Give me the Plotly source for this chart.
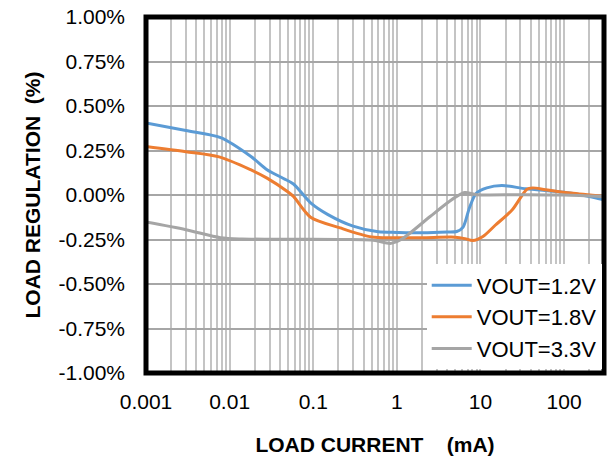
import math
import plotly.graph_objects as go

# Load current (mA) and load regulation (%)
blue_x = [0.001, 0.003, 0.0078, 0.018, 0.028, 0.044, 0.058, 0.093, 0.15, 0.3, 0.6, 1, 2, 4, 5.2,
          6.2, 7.4, 8.9, 11.9, 18, 35, 100, 200, 300]
blue_y = [0.405, 0.362, 0.322, 0.216, 0.142, 0.093, 0.062, -0.044, -0.11, -0.175, -0.207, -0.21,
          -0.212, -0.208, -0.205, -0.18, -0.07, 0.01, 0.04, 0.053, 0.035, 0.015, -0.008, -0.027]

orange_x = [0.001, 0.003, 0.0075, 0.0178, 0.028, 0.049, 0.058, 0.093, 0.21, 0.5, 1, 2, 5, 6.5,
            8.1, 10.7, 15, 24, 36, 42, 60, 120, 300]
orange_y = [0.272, 0.243, 0.214, 0.142, 0.095, 0.02, -0.008, -0.125, -0.185, -0.236, -0.24, -0.24,
            -0.237, -0.245, -0.256, -0.233, -0.17, -0.083, 0.033, 0.04, 0.03, 0.011, -0.008]

gray_x = [0.001, 0.003, 0.0078, 0.014, 0.05, 0.2, 0.5, 0.83, 1.0, 1.2, 2.5, 4, 5.2, 6.5, 9,
          30, 100, 300]
gray_y = [-0.152, -0.195, -0.24, -0.247, -0.248, -0.25, -0.253, -0.272, -0.262, -0.242, -0.121,
          -0.045, -0.008, 0.014, 0.002, 0.002, 0.0, -0.008]

series = [
    ("VOUT=1.2V", blue_x, blue_y, "#5B9BD5"),
    ("VOUT=1.8V", orange_x, orange_y, "#ED7D31"),
    ("VOUT=3.3V", gray_x, gray_y, "#A5A5A5"),
]

x_ticks = [0.001, 0.01, 0.1, 1, 10, 100]
x_ticktext = ["0.001", "0.01", "0.1", "1", "10", "100"]
y_ticks = [-1.0, -0.75, -0.5, -0.25, 0.0, 0.25, 0.5, 0.75, 1.0]
y_ticktext = ["-1.00%", "-0.75%", "-0.50%", "-0.25%", "0.00%", "0.25%", "0.50%", "0.75%", "1.00%"]

# minor log gridlines at 2..9 of each decade
minor_x = [k * 10 ** e for e in range(-3, 3) for k in range(2, 10)]

FONT = "Liberation Sans, Arial, sans-serif"

fig = go.Figure()
for name, xs, ys, color in series:
    fig.add_trace(go.Scatter(
        x=xs, y=ys, mode="lines", name=name,
        line=dict(color=color, width=3, shape="spline", smoothing=0.8),
    ))

fig.update_layout(
    width=607, height=457,
    margin=dict(l=146, r=3, t=17, b=84, autoexpand=False),
    paper_bgcolor="white", plot_bgcolor="white",
    font=dict(family=FONT, color="black", size=21),
    showlegend=True,
    legend=dict(
        x=0.995, xanchor="right", y=0.01, yanchor="bottom",
        bgcolor="white", font=dict(size=22, family=FONT),
        tracegroupgap=0, itemwidth=40,
    ),
    shapes=[dict(type="rect", xref="paper", yref="paper", x0=0, x1=1, y0=0, y1=1,
                 line=dict(color="black", width=5), layer="above")],
)

fig.update_xaxes(
    type="log", range=[-3, math.log10(300)],
    tickmode="array", tickvals=x_ticks, ticktext=x_ticktext,
    showgrid=True, gridcolor="#c4c4c4", gridwidth=1.5,
    minor=dict(tickmode="array", tickvals=minor_x, showgrid=True, gridcolor="#c4c4c4", gridwidth=1.5),
    ticks="", ticklabelstandoff=14, zeroline=False, showline=False,
    ticklabeloverflow="allow", tickfont=dict(size=21),
    title=dict(text="<b>LOAD CURRENT    (mA)</b>", font=dict(size=21), standoff=25),
)
fig.update_yaxes(
    range=[-1, 1], tickmode="array", tickvals=y_ticks, ticktext=y_ticktext,
    showgrid=True, gridcolor="#a6a6a6", gridwidth=1.5,
    ticks="", ticklabelstandoff=20, zeroline=False, showline=False,
    ticklabeloverflow="allow", tickfont=dict(size=21),
    title=dict(text="<b>LOAD REGULATION  (%)</b>", font=dict(size=21), standoff=12),
)

# drop the default 8px page margin so the 607x457 figure fills the window exactly
fig.write_html("out.html", config={"displayModeBar": False},
               post_script="document.body.style.margin='0';")
